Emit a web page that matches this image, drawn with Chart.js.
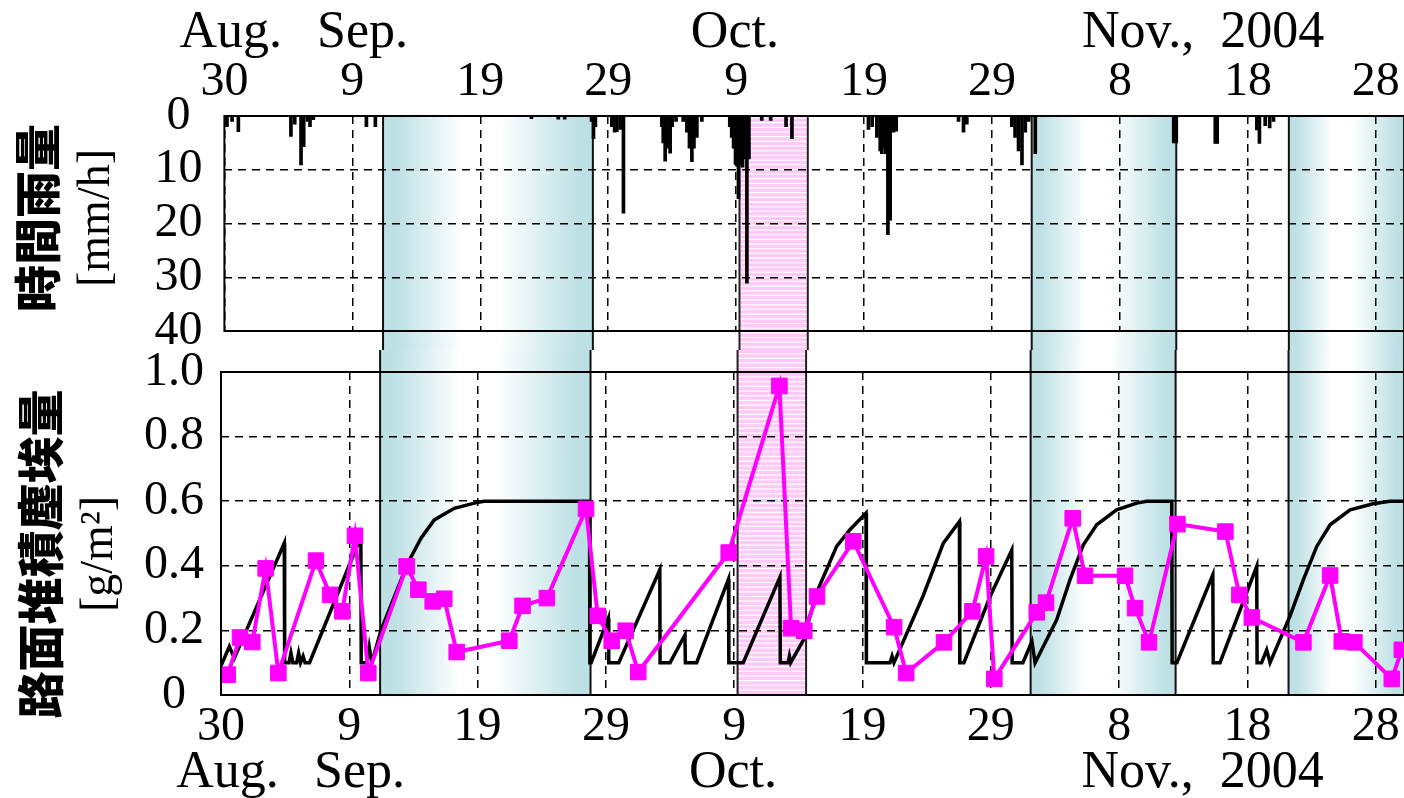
<!DOCTYPE html>
<html>
<head>
<meta charset="utf-8">
<script src="https://cdn.jsdelivr.net/npm/chart.js@4.4.0/dist/chart.umd.min.js"></script>
<style>
  html, body { margin: 0; padding: 0; background: #fff; overflow: hidden; }
  #wrap { position: relative; width: 1404px; height: 798px; }
  canvas { position: absolute; left: 0; }
  #rainChart { top: 0; }
  #dustChart { top: 350px; }
</style>
</head>
<body>
<div id="wrap">
  <canvas id="rainChart" width="1404" height="350"></canvas>
  <canvas id="dustChart" width="1404" height="448"></canvas>
</div>
<script>
// x = days counted from Aug. 30, 2004
const dayTicks = ['30', '9', '19', '29', '9', '19', '29', '8', '18', '28'];
const monthNames = ['Aug.', 'Sep.', 'Oct.', 'Nov.,  2004'];
const monthAt = [0.5, 10.8, 39.9, 76.5];
const rainTicks = ['0', '10', '20', '30', '40'];
const dustTicks = ['0', '0.2', '0.4', '0.6', '0.8', '1.0'];

// dry periods (teal) and the pink period
const dryPeriods = [[12.4, 28.8], [63.1, 74.4], [83.2, 92.2]];
const pinkPeriods = [[40.26, 45.6]];

// hourly rainfall [mm/h]
const rainDay = [0.15, 0.2, 0.6, 1.09,
  5.2, 5.5, 5.99, 6.1, 6.2, 6.5, 6.69, 6.95,
  11.1, 11.8,
  24.0, 26.1, 26.6, 28.7, 28.85, 29.0,
  30.28, 30.5, 30.67, 30.93, 31.19,
  34.19, 34.3, 34.45, 34.6, 34.84, 35.0, 35.3, 35.86, 36.15, 36.35, 36.54, 36.7, 36.93, 37.32,
  39.5, 39.65, 39.8, 39.95, 40.1, 40.18, 40.3, 40.5, 40.6, 40.84, 41.0,
  42.0, 42.7, 43.9, 44.36,
  50.34, 50.63, 51.0, 51.26, 51.39, 51.57, 51.7, 51.86, 52.04, 52.3, 52.51,
  57.38, 57.77, 58.03,
  61.55, 61.8, 62.07, 62.34, 62.6, 62.86,
  63.38,
  74.2, 74.4,
  77.45, 77.6,
  80.7, 80.9, 81.35, 81.7, 82.0];
const rainMm = [1.5, 2, 1, 2.9,
  3.8, 1.5, 9.1, 4, 5.7, 1, 2, 0.7,
  2, 2,
  0.5, 0.6, 0.6, 1, 4.2, 2,
  2, 3, 2.9, 2.5, 18.1,
  2, 5, 8.4, 6, 6.9, 2, 1, 1, 3, 6, 8.5, 6, 4, 1,
  2, 4, 6, 9, 9.4, 15.4, 9, 9.5, 8, 31.1, 8,
  0.8, 0.8, 2, 4.2,
  2.5, 2, 4, 6.5, 7, 6, 7, 22.1, 19.4, 3, 2.8,
  1, 3, 1.5,
  2, 4, 6.5, 9.1, 3, 1,
  7,
  5, 5,
  5.1, 5.1,
  2.6, 5.1, 1.8, 2.2, 1];

// measured road dust [g/m2]
const measDay = [0.52, 1.48, 2.44, 3.48, 4.47, 7.4, 8.5, 9.45, 10.44, 11.48,
  14.47, 15.38, 16.5, 17.4, 18.37, 22.47, 23.5, 25.4, 28.45, 29.36,
  30.45, 31.54, 32.52, 39.57, 43.52, 44.43, 45.46, 46.45, 49.28, 52.46,
  53.4, 56.35, 58.56, 59.63, 60.27, 63.58, 64.3, 66.38, 67.34, 70.46,
  71.24, 72.33, 74.54, 78.28, 79.37, 80.34, 84.36, 86.44, 87.35, 88.33,
  91.25, 92.03];
const measVal = [0.063, 0.178, 0.164, 0.392, 0.068, 0.416, 0.31, 0.259, 0.493, 0.068,
  0.398, 0.326, 0.29, 0.298, 0.133, 0.168, 0.276, 0.3, 0.576, 0.245,
  0.168, 0.199, 0.071, 0.441, 0.957, 0.207, 0.199, 0.305, 0.476, 0.21,
  0.068, 0.163, 0.259, 0.429, 0.05, 0.256, 0.286, 0.547, 0.369, 0.369,
  0.269, 0.163, 0.529, 0.506, 0.31, 0.24, 0.163, 0.37, 0.166, 0.163,
  0.05, 0.14];

// simulated road dust [g/m2]
const modelDay = [0, 0.65, 1.04, 4.93, 4.96, 5.3, 5.45, 5.6, 5.9, 6.05, 6.2, 6.4, 6.55, 6.9,
  10.9, 10.93, 11.35, 11.55, 11.75, 12.47, 14.55, 15.6, 16.62, 18.18, 19.74, 20.5,
  28.72, 28.75, 28.85, 30.19, 30.22, 31.0, 34.2, 34.22, 35.0, 36.16, 36.19, 37.07,
  39.55, 39.58, 40.7, 43.56, 43.59, 44.2, 44.3, 44.4, 45.4, 46.4, 47.98, 49.0, 50.27,
  50.3, 52.14, 52.3, 52.45, 54.7, 56.3, 57.55, 57.58, 57.9, 59.94, 61.63, 61.66, 62.5,
  63.2, 63.45, 65.13, 66.17, 67.21, 68.25, 69.8, 71.37, 72.15, 74.1, 74.13, 74.5,
  77.3, 77.33, 77.86, 80.72, 80.75, 81.1, 81.5, 81.76, 83.3, 84.36, 85.4, 86.44,
  88.0, 89.8, 91.1, 92.2];
const modelVal = [0.09, 0.15, 0.114, 0.47, 0.1, 0.1, 0.13, 0.1, 0.1, 0.13, 0.1, 0.12, 0.1, 0.1,
  0.49, 0.1, 0.1, 0.15, 0.1, 0.2, 0.408, 0.486, 0.542, 0.578, 0.594, 0.6,
  0.6, 0.1, 0.1, 0.238, 0.1, 0.1, 0.388, 0.1, 0.1, 0.186, 0.1, 0.1,
  0.359, 0.1, 0.1, 0.365, 0.1, 0.1, 0.12, 0.1, 0.171, 0.315, 0.46, 0.511, 0.563,
  0.1, 0.1, 0.12, 0.1, 0.305, 0.47, 0.537, 0.1, 0.1, 0.305, 0.449, 0.1, 0.1,
  0.166, 0.1, 0.233, 0.357, 0.465, 0.527, 0.573, 0.594, 0.6, 0.6, 0.1, 0.1,
  0.372, 0.1, 0.1, 0.398, 0.1, 0.1, 0.14, 0.1, 0.243, 0.357, 0.46, 0.527,
  0.573, 0.592, 0.6, 0.6];

const xMax = 92.2;
const teal = 'rgb(188,224,228)';
const serif = '"Liberation Serif", "Times New Roman", serif';

Chart.defaults.font.family = serif;
Chart.defaults.color = '#000';

// shaded periods, drawn under the grid
const shadePlugin = {
  id: 'shade',
  beforeDraw(chart, args, opts) {
    const {ctx, chartArea, scales} = chart;
    const x = scales.x;
    const top = opts.panel === 'top' ? chartArea.top : -3;
    const bottom = opts.panel === 'top' ? chart.height + 3 : chartArea.bottom;
    ctx.save();
    dryPeriods.forEach(p => {
      const x0 = x.getPixelForValue(p[0]);
      const x1 = x.getPixelForValue(p[1]);
      const g = ctx.createLinearGradient(x0, 0, x1, 0);
      g.addColorStop(0, teal);
      g.addColorStop(0.06, teal);
      g.addColorStop(0.38, '#fff');
      g.addColorStop(0.55, '#fff');
      g.addColorStop(0.94, teal);
      g.addColorStop(1, teal);
      ctx.fillStyle = g;
      ctx.fillRect(x0, top, x1 - x0, bottom - top);
      ctx.lineWidth = 2;
      ctx.strokeStyle = '#111';
      ctx.strokeRect(x0, top, x1 - x0, bottom - top);
    });
    pinkPeriods.forEach(p => {
      const x0 = x.getPixelForValue(p[0]);
      const x1 = x.getPixelForValue(p[1]);
      ctx.fillStyle = 'rgb(255,202,247)';
      ctx.fillRect(x0, top, x1 - x0, bottom - top);
      ctx.strokeStyle = '#fff';
      ctx.lineWidth = 1.2;
      for (let y = top + 2; y < bottom; y += 4.67) {
        ctx.beginPath();
        ctx.moveTo(x0, y);
        ctx.lineTo(x1, y);
        ctx.stroke();
      }
      ctx.lineWidth = 2;
      ctx.strokeStyle = '#222';
      ctx.strokeRect(x0, top, x1 - x0, bottom - top);
    });
    ctx.restore();
  }
};

// frame, month names and axis titles
const framePlugin = {
  id: 'frame',
  afterDraw(chart, args, opts) {
    const {ctx, chartArea, scales} = chart;
    ctx.save();
    ctx.lineWidth = 2;
    ctx.strokeStyle = '#000';
    ctx.strokeRect(chartArea.left, chartArea.top, chartArea.right - chartArea.left + 4, chartArea.bottom - chartArea.top);

    ctx.fillStyle = '#000';
    ctx.font = '52px ' + serif;
    ctx.textAlign = 'center';
    ctx.textBaseline = 'alphabetic';
    monthNames.forEach((m, i) => {
      ctx.fillText(m, scales.x.getPixelForValue(monthAt[i]), opts.monthY);
    });

    ctx.textBaseline = 'middle';
    ctx.save();
    ctx.translate(opts.titleX, opts.titleY);
    ctx.rotate(-Math.PI / 2);
    ctx.font = '900 47px "Noto Sans CJK JP"';
    ctx.fillText(opts.title, 0, 0);
    ctx.restore();
    ctx.save();
    ctx.translate(opts.unitX, opts.titleY);
    ctx.rotate(-Math.PI / 2);
    ctx.font = '46px ' + serif;
    ctx.fillText(opts.unit, 0, 0);
    ctx.restore();
    ctx.restore();
  }
};

const gridX = { color: '#000', lineWidth: 1.5, drawTicks: false, offset: false };
const dash = { display: false, dash: [8, 6] };
// keep the plot area where the layout puts it (labels may overhang)
const noPadX = h => s => { s.height = h; s.paddingLeft = 0; s.paddingRight = 0; };
const noPadY = w => s => { s.width = w; s.paddingTop = 0; s.paddingBottom = 0; };

new Chart(document.getElementById('rainChart'), {
  type: 'bar',
  data: {
    datasets: [{
      data: rainDay.map((d, i) => ({ x: d, y: rainMm[i] })),
      backgroundColor: '#000',
      barThickness: 3
    }]
  },
  options: {
    responsive: false,
    animation: false,
    layout: { autoPadding: false, padding: { top: 0, bottom: 19, left: 0, right: 0 } },
    plugins: {
      legend: { display: false },
      tooltip: { enabled: false },
      shade: { panel: 'top' },
      frame: { monthY: 47, title: '時間雨量', unit: '[mm/h]', titleX: 37, unitX: 97, titleY: 218 }
    },
    scales: {
      x: {
        type: 'linear', position: 'top', min: 0, max: xMax, offset: false,
        grid: gridX, border: dash,
        ticks: { stepSize: 10, includeBounds: false, autoSkip: false, maxRotation: 0, padding: 5,
                 font: { size: 48 }, callback: v => dayTicks[Math.round(v / 10)] },
        afterFit: noPadX(116)
      },
      y: {
        reverse: true, min: 0, max: 40,
        grid: { color: '#000', lineWidth: 1.5, drawTicks: false }, border: dash,
        ticks: { stepSize: 10, autoSkip: false, crossAlign: 'center', padding: 22, font: { size: 48 },
                 callback: v => rainTicks[Math.round(v / 10)] },
        afterFit: noPadY(224.4)
      }
    }
  },
  plugins: [shadePlugin, framePlugin]
});

new Chart(document.getElementById('dustChart'), {
  type: 'line',
  data: {
    datasets: [{
      data: measDay.map((d, i) => ({ x: d, y: measVal[i] })),
      borderColor: '#ff00ff',
      backgroundColor: '#ff00ff',
      borderWidth: 4,
      pointStyle: 'rect',
      pointRadius: 11,
      pointBorderWidth: 1,
      tension: 0
    }, {
      data: modelDay.map((d, i) => ({ x: d, y: modelVal[i] })),
      borderColor: '#000',
      borderWidth: 3.5,
      pointRadius: 0,
      tension: 0
    }]
  },
  options: {
    responsive: false,
    animation: false,
    layout: { autoPadding: false, padding: { top: 22, bottom: 0, left: 0, right: 0 } },
    plugins: {
      legend: { display: false },
      tooltip: { enabled: false },
      shade: { panel: 'bottom' },
      frame: { monthY: 437, title: '路面堆積塵埃量', unit: '[g/m²]', titleX: 40, unitX: 100, titleY: 204 }
    },
    scales: {
      x: {
        type: 'linear', position: 'bottom', min: 0, max: xMax,
        grid: gridX, border: dash,
        ticks: { stepSize: 10, includeBounds: false, autoSkip: false, maxRotation: 0, padding: 4,
                 font: { size: 48 }, callback: v => dayTicks[Math.round(v / 10)] },
        afterFit: noPadX(103)
      },
      y: {
        min: 0, max: 1.0,
        grid: { color: '#000', lineWidth: 1.5, drawTicks: false }, border: dash,
        ticks: { stepSize: 0.2, autoSkip: false, crossAlign: 'center', padding: 17, font: { size: 48 },
                 callback: v => dustTicks[Math.round(v * 5)] },
        afterFit: noPadY(221)
      }
    }
  },
  plugins: [shadePlugin, framePlugin]
});
</script>
</body>
</html>
